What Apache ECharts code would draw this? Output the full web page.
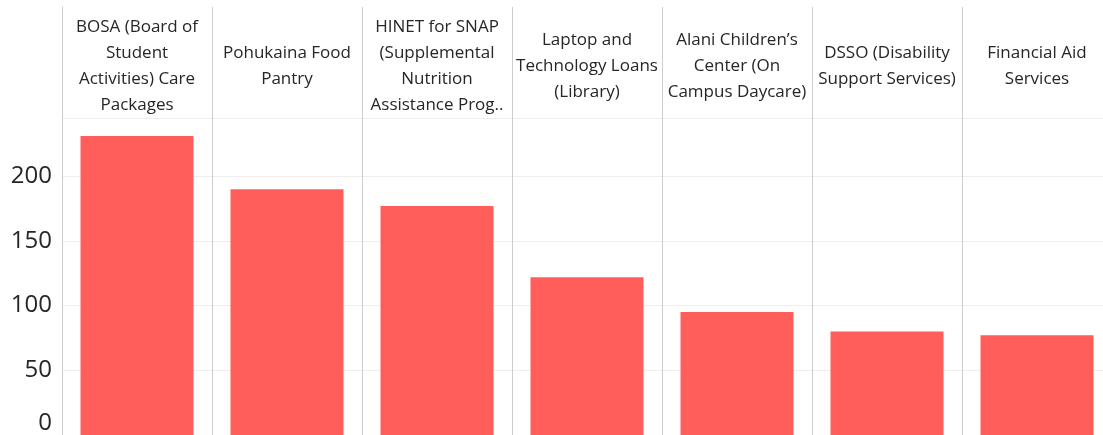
<!DOCTYPE html>
<html>
<head>
<meta charset="utf-8">
<script src="https://cdn.jsdelivr.net/npm/echarts@6/dist/echarts.min.js"></script>
<style>
  html, body { margin: 0; padding: 0; background: #fff; overflow: hidden; }
  /* the view is a little wider than the window; the last column is cut off at the right edge */
  #chart { width: 1112px; height: 435px; }
</style>
</head>
<body>
<div id="chart"></div>
<script>
// header labels, wrapped the way the table header shows them
const categories = [
    'BOSA (Board of\nStudent\nActivities) Care\nPackages',
    'Pohukaina Food\nPantry',
    'HINET for SNAP\n(Supplemental\nNutrition\nAssistance Prog..',
    'Laptop and\nTechnology Loans\n(Library)',
    'Alani Children\u2019s\nCenter (On\nCampus Daycare)',
    'DSSO (Disability\nSupport Services)',
    'Financial Aid\nServices'
];
const counts = [231, 190, 177, 122, 95, 80, 77];
const yTicks = [0, 50, 100, 150, 200];

const lineGrey = '#cccccc';
const textCol = '#262626';
const font = '"Open Sans", sans-serif';

var chart = echarts.init(document.getElementById('chart'));

var option = {
    backgroundColor: '#ffffff',
    animation: false,
    grid: [
        // header band
        { left: 62, right: 0, top: 7, height: 111 },
        // plot area
        { left: 62, right: 0, top: 118, bottom: 0 }
    ],
    xAxis: [{
        gridIndex: 0,
        type: 'category',
        data: categories,
        position: 'bottom',
        axisLine: { show: false },
        axisTick: { show: false },
        axisLabel: { show: false },
        splitLine: { show: true, interval: 0, lineStyle: { color: lineGrey, width: 1 } }
    }, {
        gridIndex: 1,
        type: 'category',
        data: categories,
        position: 'top',
        axisLine: { show: true, lineStyle: { color: lineGrey, width: 1 } },
        axisTick: { show: false },
        axisLabel: {
            interval: 0,
            margin: 52,
            verticalAlign: 'middle',
            align: 'center',
            color: textCol,
            fontFamily: font,
            fontSize: 17,
            lineHeight: 26
        },
        splitLine: { show: true, interval: 0, lineStyle: { color: lineGrey, width: 1 } }
    }],
    yAxis: [{
        gridIndex: 0,
        type: 'value',
        axisLine: { show: true, lineStyle: { color: lineGrey } },
        axisTick: { show: false },
        axisLabel: { show: false },
        splitLine: { show: false }
    }, {
        gridIndex: 1,
        type: 'value',
        min: 0,
        max: 245,
        interval: 50,
        axisLine: { show: true, lineStyle: { color: lineGrey } },
        axisTick: { show: false },
        axisLabel: {
            color: textCol,
            fontFamily: font,
            fontSize: 24,
            margin: 10,
            verticalAlignMinLabel: 'bottom',
            formatter: function (v) { return yTicks.indexOf(v) >= 0 ? String(v) : ''; }
        },
        splitLine: { show: true, lineStyle: { color: '#eeeeee', width: 1 } }
    }],
    series: [{
        type: 'bar',
        xAxisIndex: 1,
        yAxisIndex: 1,
        data: counts,
        barWidth: 113,
        itemStyle: { color: '#ff5e5b' }
    }]
};

chart.setOption(option);
</script>
</body>
</html>
